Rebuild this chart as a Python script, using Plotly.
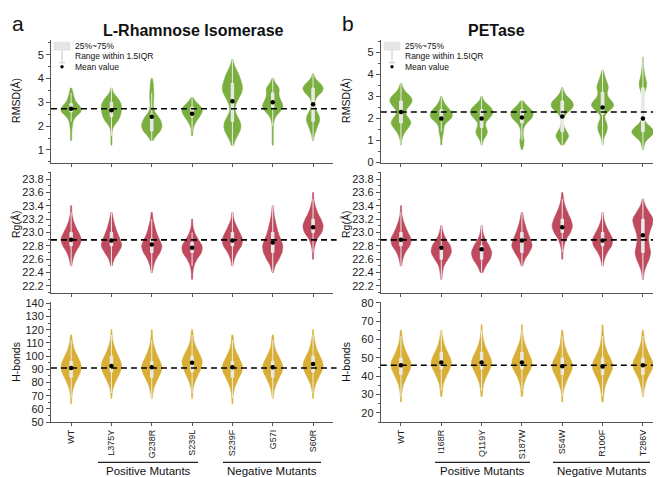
import plotly.graph_objects as go

# ---------------- data ----------------
# Each violin is given as a density profile:
# relative violin width (count) at each level of its panel's level grid.
cats_L = ["WT", "L375Y", "G238R", "S239L", "S239F", "G57I", "S60R"]
cats_R = ["WT", "I168R", "Q119Y", "S187W", "S54W", "R100F", "T286V"]

rmsd_levels = [0.6, 0.8, 1.0, 1.2, 1.4, 1.6, 1.8, 2.0, 2.2, 2.4, 2.6,
               2.8, 3.0, 3.2, 3.4, 3.6, 3.8, 4.0, 4.2, 4.4, 4.6, 4.8]
rmsd_L_counts = [
    [0, 0, 0, 0, 1, 1, 1, 2, 3, 7, 18, 17, 8, 5, 3, 1, 0, 0, 0, 0, 0, 0],
    [0, 0, 0, 1, 1, 1, 1, 4, 12, 17, 19, 20, 18, 12, 3, 1, 0, 0, 0, 0, 0, 0],
    [0, 0, 0, 0, 2, 8, 17, 20, 18, 13, 5, 3, 3, 4, 4, 3, 3, 1, 0, 0, 0, 0],
    [0, 0, 0, 0, 0, 1, 1, 3, 7, 13, 18, 17, 7, 1, 0, 0, 0, 0, 0, 0, 0, 0],
    [0, 0, 0, 2, 5, 10, 15, 17, 15, 10, 5, 5, 8, 13, 18, 20, 18, 15, 12, 7, 3, 1],
    [0, 0, 0, 1, 1, 1, 1, 1, 2, 5, 13, 20, 17, 12, 11, 13, 5, 1, 0, 0, 0, 0],
    [0, 0, 0, 0, 1, 2, 5, 8, 12, 12, 7, 3, 3, 5, 15, 20, 13, 3, 1, 0, 0, 0],
]
rmsd_L_mean = [2.73, 2.67, 2.40, 2.52, 3.05, 3.00, 2.92]

rmsd_R_counts = [
    [0, 1, 1, 3, 7, 13, 18, 14, 7, 8, 15, 20, 17, 8, 3, 1, 0, 0, 0, 0, 0, 0],
    [0, 1, 1, 2, 4, 4, 7, 18, 20, 15, 8, 3, 1, 0, 0, 0, 0, 0, 0, 0, 0, 0],
    [0, 1, 2, 7, 10, 7, 5, 12, 18, 18, 12, 3, 1, 0, 0, 0, 0, 0, 0, 0, 0, 0],
    [1, 3, 4, 2, 2, 3, 8, 17, 20, 17, 8, 2, 0, 0, 0, 0, 0, 0, 0, 0, 0, 0],
    [0, 2, 7, 12, 8, 3, 2, 2, 5, 15, 20, 17, 8, 3, 1, 0, 0, 0, 0, 0, 0, 0],
    [0, 1, 1, 3, 7, 8, 7, 3, 4, 13, 20, 15, 8, 7, 10, 8, 5, 3, 1, 0, 0, 0],
    [1, 2, 5, 15, 22, 15, 5, 2, 1, 1, 1, 1, 2, 3, 6, 7, 5, 3, 2, 1, 1, 1],
]
rmsd_R_mean = [2.30, 2.00, 2.00, 2.05, 2.10, 2.50, 2.00]

rg_levels = [22.3, 22.4, 22.5, 22.6, 22.7, 22.8, 22.9, 23.0, 23.1, 23.2, 23.3, 23.4, 23.5, 23.6]
rg_L_counts = [
    [0, 0, 1, 3, 7, 15, 19, 13, 7, 3, 1, 1, 0, 0],
    [0, 0, 1, 4, 12, 19, 15, 10, 6, 3, 1, 0, 0, 0],
    [0, 1, 3, 7, 15, 19, 13, 8, 5, 2, 1, 0, 0, 0],
    [1, 1, 3, 8, 17, 18, 10, 4, 1, 1, 0, 0, 0, 0],
    [0, 0, 1, 3, 8, 17, 19, 13, 7, 2, 1, 0, 0, 0],
    [0, 1, 4, 12, 18, 20, 15, 10, 7, 4, 2, 1, 0, 0],
    [0, 0, 0, 1, 1, 3, 7, 17, 20, 15, 8, 4, 1, 1],
]
rg_L_mean = [22.89, 22.88, 22.82, 22.77, 22.88, 22.85, 23.08]

rg_R_counts = [
    [0, 0, 1, 3, 7, 16, 19, 12, 7, 3, 1, 1, 0, 0],
    [1, 2, 4, 12, 19, 17, 8, 3, 1, 0, 0, 0, 0, 0],
    [0, 2, 7, 16, 19, 14, 6, 2, 1, 0, 0, 0, 0, 0],
    [0, 0, 1, 5, 13, 19, 15, 10, 6, 3, 1, 0, 0, 0],
    [0, 0, 0, 1, 1, 3, 7, 16, 20, 16, 10, 5, 2, 1],
    [0, 0, 1, 3, 8, 17, 19, 12, 6, 2, 1, 0, 0, 0],
    [1, 2, 6, 12, 15, 12, 10, 12, 17, 20, 12, 4, 1, 0],
]
rg_R_mean = [22.89, 22.77, 22.75, 22.88, 23.08, 22.88, 22.96]

hb_L_levels = [64, 68, 72, 76, 80, 84, 88, 92, 96, 100, 104, 108, 112, 116, 120, 124]
hb_L_counts = [
    [1, 1, 2, 4, 8, 13, 18, 20, 17, 12, 7, 4, 2, 1, 0, 0],
    [0, 1, 1, 3, 7, 12, 17, 20, 18, 13, 8, 5, 2, 1, 1, 0],
    [0, 1, 2, 4, 8, 13, 18, 20, 16, 11, 7, 4, 2, 1, 1, 0],
    [0, 1, 1, 2, 5, 9, 14, 18, 20, 16, 11, 6, 3, 2, 1, 0],
    [1, 1, 2, 4, 8, 13, 18, 20, 16, 11, 6, 3, 2, 1, 0, 0],
    [0, 1, 2, 4, 8, 13, 18, 20, 16, 11, 6, 3, 2, 1, 0, 0],
    [0, 1, 1, 3, 6, 11, 16, 20, 18, 13, 8, 5, 3, 1, 1, 0],
]
hb_L_mean = [91.0, 92.5, 91.5, 95.0, 91.5, 91.5, 94.0]

hb_R_levels = [26, 29, 32, 35, 38, 41, 44, 47, 50, 53, 56, 59, 62, 65, 68]
hb_R_counts = [
    [1, 1, 2, 4, 8, 13, 18, 20, 15, 10, 6, 3, 2, 1, 0],
    [0, 1, 2, 3, 6, 11, 16, 20, 17, 12, 7, 4, 2, 1, 0],
    [0, 1, 2, 3, 6, 11, 16, 20, 17, 12, 7, 4, 2, 1, 1],
    [0, 1, 2, 3, 6, 11, 17, 20, 17, 12, 8, 4, 2, 1, 1],
    [1, 1, 2, 5, 9, 14, 19, 19, 14, 9, 5, 3, 2, 1, 0],
    [1, 2, 3, 5, 9, 14, 19, 19, 14, 9, 5, 3, 2, 1, 1],
    [0, 1, 2, 4, 7, 12, 18, 20, 15, 10, 6, 3, 2, 1, 0],
]
hb_R_mean = [46.0, 47.5, 47.5, 47.5, 45.5, 45.3, 46.0]

# ---------------- styles ----------------
GREEN = "#7aae3e"
RED = "#bf4a5e"
YELLOW = "#d9ae34"
AXC = "#555555"
FONT = "Arial, Liberation Sans, sans-serif"
PX_PER_CAT = 40.0   # pixel spacing between categories

colL = [0.065, 0.492]
colR = [0.564, 0.991]
rows = [[0.679, 0.941], [0.400, 0.658], [0.122, 0.380]]

panels = [
    # (cats, levels, counts, means, color, bandwidth, xdom, ydom, yrange, dtick, minor, fmt)
    (cats_L, rmsd_levels, rmsd_L_counts, rmsd_L_mean, GREEN, 0.12, colL, rows[0], [0.47, 5.6], 1, 0.5, None),
    (cats_L, rg_levels, rg_L_counts, rg_L_mean, RED, 0.055, colL, rows[1], [22.1, 23.9], 0.2, 0.1, ".1f"),
    (cats_L, hb_L_levels, hb_L_counts, hb_L_mean, YELLOW, 2.4, colL, rows[2], [50, 141], 10, 5, None),
    (cats_R, rmsd_levels, rmsd_R_counts, rmsd_R_mean, GREEN, 0.12, colR, rows[0], [0, 5.55], 1, 0.5, None),
    (cats_R, rg_levels, rg_R_counts, rg_R_mean, RED, 0.055, colR, rows[1], [22.1, 23.9], 0.2, 0.1, ".1f"),
    (cats_R, hb_R_levels, hb_R_counts, hb_R_mean, YELLOW, 1.8, colR, rows[2], [15, 80.5], 10, 5, None),
]

fig = go.Figure()
layout_axes = {}
shapes = []

for i, (cats, levels, counts, means, color, bw, xd, yd, yr, dt, mn, fmt) in enumerate(panels):
    n = i + 1
    xa = "x" if n == 1 else f"x{n}"
    ya = "y" if n == 1 else f"y{n}"
    vwidth = max(max(c) for c in counts) / PX_PER_CAT
    for c, cnt in zip(cats, counts):
        ys = [lv for lv, k in zip(levels, cnt) for _ in range(k)]
        fig.add_trace(go.Violin(
            x=[c] * len(ys), y=ys, xaxis=xa, yaxis=ya,
            fillcolor=color, line=dict(color=color, width=0.6), opacity=1,
            width=vwidth, scalemode="count", scalegroup=f"g{n}",
            bandwidth=bw, spanmode="hard", points=False,
            box=dict(visible=True, width=0.12, fillcolor="#e8e8e8",
                     line=dict(color="#ececec", width=1)),
            showlegend=False, hoverinfo="skip"))
    fig.add_trace(go.Scatter(
        x=cats, y=means, xaxis=xa, yaxis=ya, mode="markers",
        marker=dict(color="black", size=4.5, symbol="circle"),
        showlegend=False, hoverinfo="skip"))
    shapes.append(dict(type="line", xref=f"{xa} domain", yref=ya, x0=0, x1=1.012,
                       y0=means[0], y1=means[0],
                       line=dict(color="black", width=1.6, dash="6px,4px")))
    bottom = (i % 3 == 2)
    layout_axes["xaxis" if n == 1 else f"xaxis{n}"] = dict(
        domain=xd, anchor=ya, type="category", categoryorder="array", categoryarray=cats,
        range=[-0.5, 6.5], showline=True, linecolor=AXC, linewidth=1,
        ticks="outside", ticklen=3, tickcolor=AXC, showgrid=False, zeroline=False,
        showticklabels=bottom, tickangle=-90, tickfont=dict(size=9, color="#222", family=FONT))
    layout_axes["yaxis" if n == 1 else f"yaxis{n}"] = dict(
        domain=yd, anchor=xa, range=yr, dtick=dt, tick0=0, showline=True, linecolor=AXC,
        linewidth=1, ticks="outside", ticklen=4, tickcolor=AXC, showgrid=False,
        zeroline=False, tickformat=fmt, tickfont=dict(size=11, color="#222", family=FONT),
        minor=dict(dtick=mn, ticks="outside", ticklen=2, tickcolor=AXC))

W, H = 661, 477
annotations = [
    dict(text="<b>L-Rhamnose Isomerase</b>", x=186, y=18, size=16),
    dict(text="<b>PETase</b>", x=488, y=18, size=16),
    dict(text="a", x=10, y=11, size=21),
    dict(text="b", x=340, y=11, size=21),
]
for off in (0, 330):
    annotations += [
        dict(text="RMSD(Å)", x=off + 8, y=90, textangle=-90, size=10.5),
        dict(text="Rg(Å)", x=off + 8, y=217, textangle=-90, size=10.5),
        dict(text="H-bonds", x=off + 8, y=357, textangle=-90, size=10.5),
    ]
groups = [(90, 190, "Positive Mutants"), (215, 313, "Negative Mutants"),
          (427, 522, "Positive Mutants"), (545, 642, "Negative Mutants")]
for x0, x1, t in groups:
    shapes.append(dict(type="line", xref="paper", yref="paper", x0=x0 / W, x1=x1 / W,
                       y0=1 - 460 / H, y1=1 - 460 / H, line=dict(color="#222", width=1.2)))
    annotations.append(dict(text=t, x=(x0 + x1) / 2, y=469, size=11.5))

for off in (0, 330):
    shapes.append(dict(type="rect", xref="paper", yref="paper",
                       x0=(off + 46) / W, x1=(off + 62) / W, y0=1 - 38 / H, y1=1 - 30 / H,
                       fillcolor="#e6e6e6", line=dict(color="#d8d8d8", width=0.5)))
    shapes.append(dict(type="line", xref="paper", yref="paper",
                       x0=(off + 54) / W, x1=(off + 54) / W, y0=1 - 51 / H, y1=1 - 38 / H,
                       line=dict(color="#c8c8c8", width=1)))
    shapes.append(dict(type="line", xref="paper", yref="paper",
                       x0=(off + 51) / W, x1=(off + 57) / W, y0=1 - 51 / H, y1=1 - 51 / H,
                       line=dict(color="#c8c8c8", width=1)))
    shapes.append(dict(type="circle", xref="paper", yref="paper",
                       x0=(off + 52.3) / W, x1=(off + 55.7) / W, y0=1 - 56.7 / H, y1=1 - 53.3 / H,
                       fillcolor="black", line=dict(color="black", width=0)))
    for ty, t in ((34, "25%~75%"), (44, "Range within 1.5IQR"), (55, "Mean value")):
        annotations.append(dict(text=t, x=off + 65, y=ty, xanchor="left", size=8.5))

ann_out = []
for a in annotations:
    ann_out.append(dict(xref="paper", yref="paper", showarrow=False,
                        x=a["x"] / W, y=1 - a["y"] / H, text=a["text"],
                        xanchor=a.get("xanchor", "center"), yanchor="middle",
                        textangle=a.get("textangle", 0),
                        font=dict(family=FONT, color="#111", size=a["size"])))

fig.update_layout(
    width=W, height=H, margin=dict(l=0, r=0, t=0, b=0),
    paper_bgcolor="white", plot_bgcolor="white", violinmode="overlay",
    font=dict(family=FONT), showlegend=False,
    annotations=ann_out, shapes=shapes, **layout_axes)

fig.write_html("out.html")
